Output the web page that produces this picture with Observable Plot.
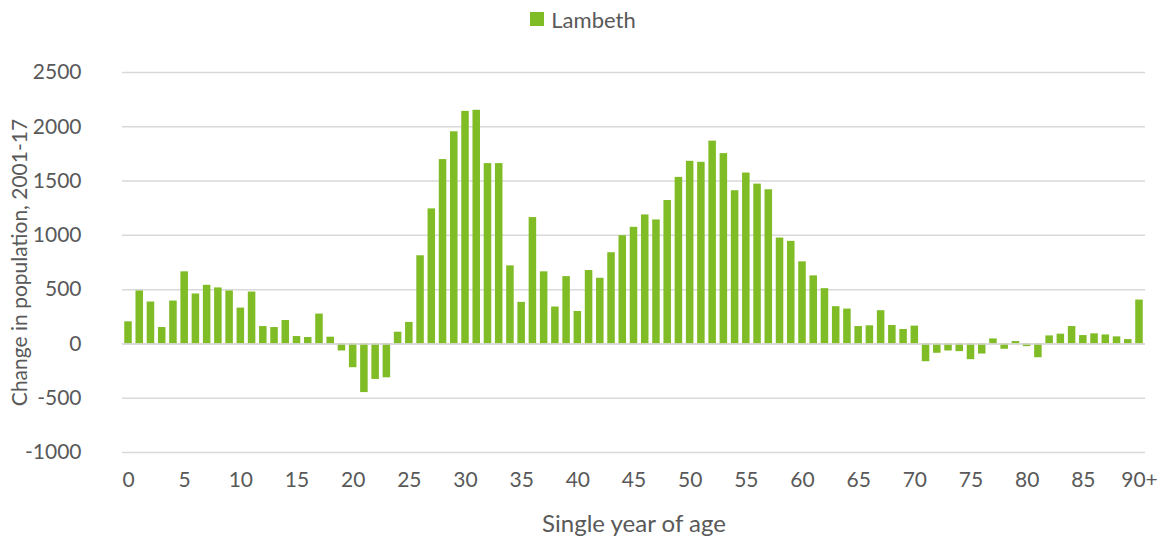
<!DOCTYPE html>
<html><head><meta charset="utf-8">
<script src="https://cdn.jsdelivr.net/npm/d3@7"></script>
<script src="https://cdn.jsdelivr.net/npm/@observablehq/plot@0.6"></script>
<style>
body{margin:0;background:#fff;font-family:Lato,sans-serif;}
#legend{height:38px;display:flex;justify-content:center;align-items:center;color:#595959;font-size:22px;padding-left:4px;box-sizing:border-box;}
#legend .sw{display:inline-block;width:14px;height:14px;background:#80bc26;margin-right:7px;}
#chart svg{display:block;}
</style></head><body>
<div id="legend"><span class="sw"></span><span>Lambeth</span></div>
<div id="chart"></div>
<script>
const seriesName = "Lambeth";
const ages = ["0","1","2","3","4","5","6","7","8","9","10","11","12","13","14","15","16","17","18","19",
"20","21","22","23","24","25","26","27","28","29","30","31","32","33","34","35","36","37","38","39",
"40","41","42","43","44","45","46","47","48","49","50","51","52","53","54","55","56","57","58","59",
"60","61","62","63","64","65","66","67","68","69","70","71","72","73","74","75","76","77","78","79",
"80","81","82","83","84","85","86","87","88","89","90+"];
const values = [204,488,386,151,395,664,460,540,516,488,330,478,160,151,216,68,59,275,62,-65,
-219,-448,-327,-312,108,198,812,1244,1698,1954,2142,2152,1661,1661,719,383,1164,664,340,620,
299,676,605,840,997,1074,1188,1142,1321,1534,1682,1673,1868,1753,1411,1574,1472,1420,975,945,
756,627,509,343,321,160,167,306,170,133,164,-164,-86,-65,-71,-145,-93,46,-49,22,
-25,-127,74,90,160,77,93,83,65,40,404];
const xTickLabels = ["0","5","10","15","20","25","30","35","40","45","50","55","60","65","70","75","80","85","90+"];
const yTicks = [-1000,-500,0,500,1000,1500,2000,2500];

const data = ages.map((a,i)=>({age:a, value:values[i]}));

const chart = Plot.plot({
  width:1162, height:500,
  marginLeft:122, marginRight:17, marginTop:34, marginBottom:86,
  style:{fontFamily:"Lato, sans-serif", fontSize:"21px", color:"#595959", background:"#fff"},
  x:{domain:ages, paddingInner:0.33, paddingOuter:0.2, round:false},
  y:{domain:[-1000,2500]},
  marks:[
    Plot.gridY(yTicks, {stroke:"#d9d9d9", strokeOpacity:1, strokeWidth:1.5}),
    Plot.barY(data, {x:"age", y:"value", fill:"#80bc26"}),
    Plot.ruleY([0], {stroke:"#d9d9d9", strokeWidth:1.5}),
    Plot.axisY(yTicks, {tickSize:0, tickPadding:41, tickFormat:d => String(d), fontSize:21, label:null}),
    Plot.axisY({ticks:[], label:"Change in population, 2001-17", labelAnchor:"center", labelArrow:"none", labelOffset:110, fontSize:21}),
    Plot.axisX(xTickLabels, {tickSize:0, tickPadding:20, fontSize:21, label:null}),
    Plot.axisX({ticks:[], label:"Single year of age", labelAnchor:"center", labelArrow:"none", labelOffset:79, fontSize:24})
  ]
});
document.getElementById("chart").appendChild(chart);
</script>
</body></html>
